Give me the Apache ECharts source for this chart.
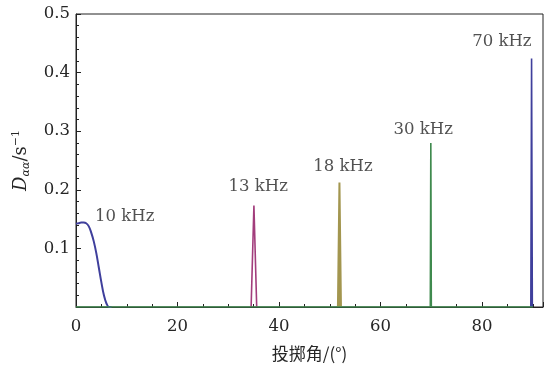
<!DOCTYPE html>
<html><head><meta charset="utf-8">
<script src="https://cdn.jsdelivr.net/npm/echarts@6/dist/echarts.min.js"></script>
<style>html,body{margin:0;padding:0;background:#fff}#c{width:549px;height:367px}</style>
</head><body><div id="c"></div>
<script>
// 10 kHz smooth curve
const x10 = [0, 0.5, 1, 1.5, 2, 2.5, 3, 3.5, 4, 4.5, 5, 5.5, 6, 6.5, 7];
const y10 = [0.142, 0.143, 0.144, 0.144, 0.143, 0.138, 0.127, 0.112, 0.092, 0.067, 0.042, 0.02, 0.006, 0.0, 0.0];
// narrow spikes
const x13 = [34.5, 35.05, 35.6];
const y13 = [0, 0.173, 0];
const x18 = [51.6, 51.9, 52.2];
const y18 = [0, 0.2125, 0];
const x30 = [0, 69.8, 69.9, 70.0, 90];
const y30 = [0, 0, 0.280, 0, 0];
const x70 = [89.6, 89.75, 89.9];
const y70 = [0, 0.424, 0];
// annotation labels
const labelText = ['10 kHz', '13 kHz', '18 kHz', '30 kHz', '70 kHz'];
const labelX = [9.6, 35.9, 52.6, 68.4, 83.9];
const labelY = [0.1536, 0.205, 0.239, 0.302, 0.453];
const xTicks = [0, 20, 40, 60, 80];
const yTicks = [0.1, 0.2, 0.3, 0.4, 0.5];

const zip = (a, b) => a.map((v, i) => [v, b[i]]);
const serif = 'DejaVu Serif';
const txt = '#262626';
const chart = echarts.init(document.getElementById('c'), null, {renderer: 'canvas'});
chart.setOption({
  animation: false,
  grid: {left: 76, right: 6, top: 14, bottom: 60, show: true, borderColor: '#222', borderWidth: 1},
  xAxis: {
    type: 'value', min: 0, max: 92, interval: 20,
    name: '投掷角/(°)', nameLocation: 'middle', nameGap: 38,
    nameTextStyle: {fontFamily: 'Noto Sans CJK SC', fontSize: 17, color: txt},
    axisLine: {onZero: false, lineStyle: {color: '#222', width: 1}},
    axisTick: {inside: true, length: 5, lineStyle: {color: '#222'}},
    minorTick: {show: true, splitNumber: 4, length: 3, lineStyle: {color: '#222'}},
    splitLine: {show: false},
    axisLabel: {fontFamily: serif, fontSize: 16.5, color: txt, margin: 11,
      formatter: v => xTicks.includes(v) ? String(v) : ''}
  },
  yAxis: {
    type: 'value', min: 0, max: 0.5, interval: 0.1,
    name: '{it|D}{sub|αα}{n|/s}{sup|−1}', nameLocation: 'middle', nameGap: 44, nameRotate: 90,
    nameTextStyle: {color: txt, rich: {
      it: {fontFamily: serif, fontStyle: 'italic', fontSize: 18, color: txt},
      sub: {fontFamily: serif, fontStyle: 'italic', fontSize: 11, color: txt, padding: [10, 0, 0, 0]},
      n: {fontFamily: serif, fontSize: 18, color: txt},
      sup: {fontFamily: serif, fontSize: 11, color: txt, padding: [0, 0, 10, 0]}
    }},
    axisLine: {lineStyle: {color: '#222', width: 1}},
    axisTick: {inside: true, length: 5, lineStyle: {color: '#222'}},
    minorTick: {show: true, splitNumber: 5, length: 3, lineStyle: {color: '#222'}},
    splitLine: {show: false},
    axisLabel: {fontFamily: serif, fontSize: 16.5, color: txt, margin: 6,
      formatter: v => yTicks.some(t => Math.abs(t - v) < 1e-9) ? v.toFixed(1) : ''}
  },
  series: [
    {type: 'line', data: zip(x10, y10), smooth: 0.4, showSymbol: false, lineStyle: {color: '#3f3f9c', width: 2}},
    {type: 'line', data: zip(x13, y13), showSymbol: false, lineStyle: {color: '#a23d7c', width: 1.6}},
    {type: 'line', data: zip(x18, y18), showSymbol: false, lineStyle: {color: '#a3964f', width: 2}, areaStyle: {color: '#a3964f', opacity: 1}},
    {type: 'line', data: zip(x70, y70), showSymbol: false, lineStyle: {color: '#3f3f9c', width: 1.6}},
    {type: 'line', data: zip(x30, y30), showSymbol: false, lineStyle: {color: '#3f8a4e', width: 1.6}, z: 5},
    {type: 'scatter', data: labelX.map((x, i) => [x, labelY[i], labelText[i]]), symbolSize: 0, silent: true,
      label: {show: true, position: 'inside', formatter: p => p.data[2], fontFamily: serif, fontSize: 16.5, color: txt}}
  ]
});
</script></body></html>
